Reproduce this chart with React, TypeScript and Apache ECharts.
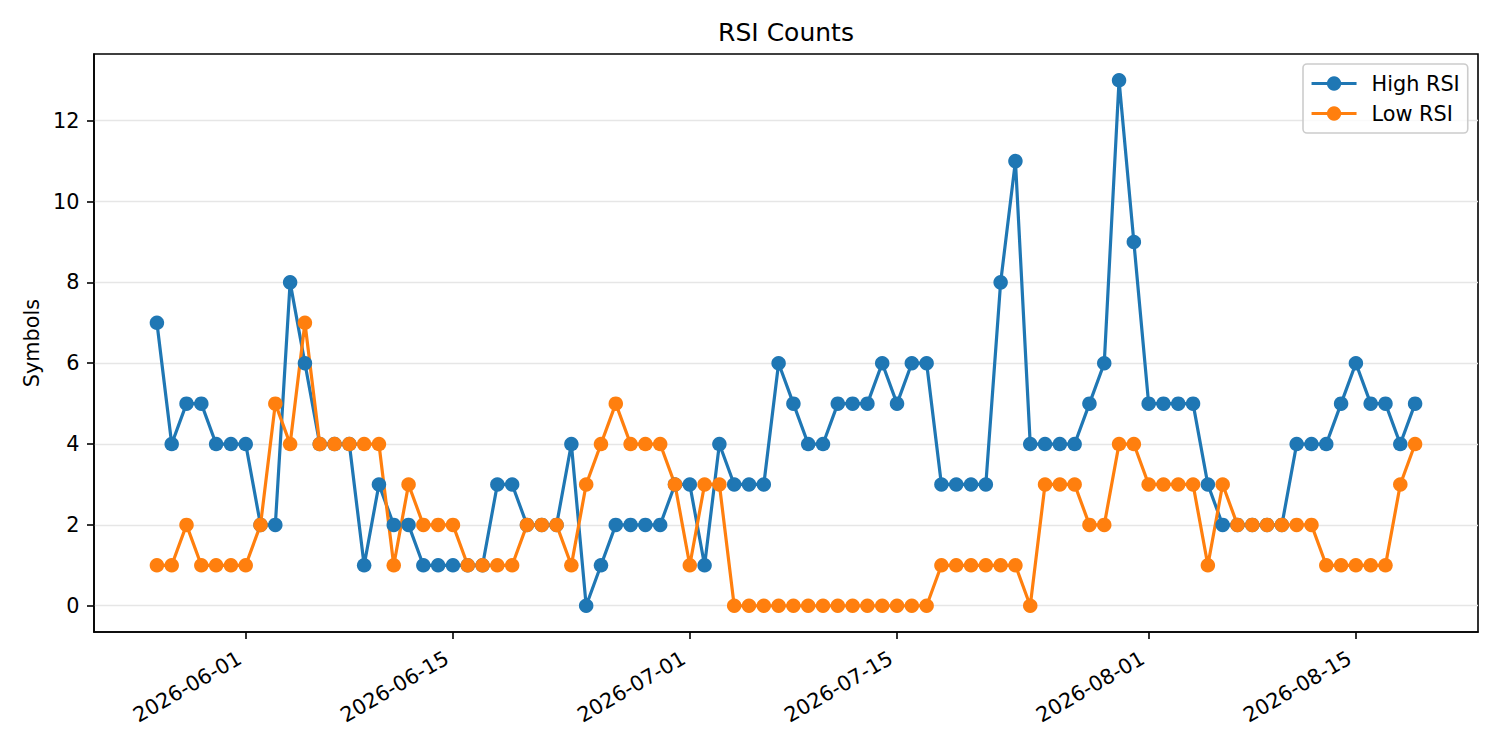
import * as echarts from "echarts";
import { useEffect, useRef } from "react";

// daily dates, 2026-05-26 .. 2026-08-19
const dates = [
  "2026-05-26", "2026-05-27", "2026-05-28", "2026-05-29", "2026-05-30", "2026-05-31",
  "2026-06-01", "2026-06-02", "2026-06-03", "2026-06-04", "2026-06-05", "2026-06-06",
  "2026-06-07", "2026-06-08", "2026-06-09", "2026-06-10", "2026-06-11", "2026-06-12",
  "2026-06-13", "2026-06-14", "2026-06-15", "2026-06-16", "2026-06-17", "2026-06-18",
  "2026-06-19", "2026-06-20", "2026-06-21", "2026-06-22", "2026-06-23", "2026-06-24",
  "2026-06-25", "2026-06-26", "2026-06-27", "2026-06-28", "2026-06-29", "2026-06-30",
  "2026-07-01", "2026-07-02", "2026-07-03", "2026-07-04", "2026-07-05", "2026-07-06",
  "2026-07-07", "2026-07-08", "2026-07-09", "2026-07-10", "2026-07-11", "2026-07-12",
  "2026-07-13", "2026-07-14", "2026-07-15", "2026-07-16", "2026-07-17", "2026-07-18",
  "2026-07-19", "2026-07-20", "2026-07-21", "2026-07-22", "2026-07-23", "2026-07-24",
  "2026-07-25", "2026-07-26", "2026-07-27", "2026-07-28", "2026-07-29", "2026-07-30",
  "2026-07-31", "2026-08-01", "2026-08-02", "2026-08-03", "2026-08-04", "2026-08-05",
  "2026-08-06", "2026-08-07", "2026-08-08", "2026-08-09", "2026-08-10", "2026-08-11",
  "2026-08-12", "2026-08-13", "2026-08-14", "2026-08-15", "2026-08-16", "2026-08-17",
  "2026-08-18", "2026-08-19",
];

const highRsi = [
  7, 4, 5, 5, 4, 4, 4, 2, 2, 8,
  6, 4, 4, 4, 1, 3, 2, 2, 1, 1,
  1, 1, 1, 3, 3, 2, 2, 2, 4, 0,
  1, 2, 2, 2, 2, 3, 3, 1, 4, 3,
  3, 3, 6, 5, 4, 4, 5, 5, 5, 6,
  5, 6, 6, 3, 3, 3, 3, 8, 11, 4,
  4, 4, 4, 5, 6, 13, 9, 5, 5, 5,
  5, 3, 2, 2, 2, 2, 2, 4, 4, 4,
  5, 6, 5, 5, 4, 5,
];

const lowRsi = [
  1, 1, 2, 1, 1, 1, 1, 2, 5, 4,
  7, 4, 4, 4, 4, 4, 1, 3, 2, 2,
  2, 1, 1, 1, 1, 2, 2, 2, 1, 3,
  4, 5, 4, 4, 4, 3, 1, 3, 3, 0,
  0, 0, 0, 0, 0, 0, 0, 0, 0, 0,
  0, 0, 0, 1, 1, 1, 1, 1, 1, 0,
  3, 3, 3, 2, 2, 4, 4, 3, 3, 3,
  3, 1, 3, 2, 2, 2, 2, 2, 2, 1,
  1, 1, 1, 1, 3, 4,
];

const xTickLabels = ["2026-06-01", "2026-06-15", "2026-07-01", "2026-07-15", "2026-08-01", "2026-08-15"];
const yTicks = [0, 2, 4, 6, 8, 10, 12];

const FONT = "DejaVu Sans";

const toTime = (s: string) => {
  const [y, m, d] = s.split("-").map(Number);
  return Date.UTC(y, m - 1, d);
};
const fmtDate = (t: number) => new Date(t).toISOString().slice(0, 10);

const App = () => {
  const chartRef = useRef<HTMLDivElement>(null);

  useEffect(() => {
    const chart = echarts.init(chartRef.current, null, { renderer: "svg" });

    const first = toTime(dates[0]);
    const last = toTime(dates[dates.length - 1]);
    const pad = (last - first) * 0.05;
    const xTicks = xTickLabels.map(toTime);

    const options = {
      animation: false,
      textStyle: { fontFamily: FONT },
      graphic: [
        {
          type: "text",
          x: 786,
          y: 32.5,
          style: {
            text: "RSI Counts",
            fontSize: 25,
            fontFamily: FONT,
            fill: "#000",
            align: "center",
            verticalAlign: "middle",
          },
        },
      ],
      legend: {
        orient: "vertical",
        left: 1303,
        top: 64,
        padding: [9, 8, 9, 7],
        itemWidth: 45,
        itemHeight: 18,
        itemGap: 9,
        selectedMode: false,
        backgroundColor: "rgba(255,255,255,0.8)",
        borderColor: "#cccccc",
        borderWidth: 1.6,
        borderRadius: 4,
        lineStyle: { width: 3.1 },
        textStyle: { fontSize: 20.8, color: "#000", fontFamily: FONT, padding: [0, 0, 0, 10] },
        data: ["High RSI", "Low RSI"],
      },
      grid: {
        left: 94,
        right: 22,
        top: 54,
        bottom: 118,
        show: true,
        borderColor: "#000",
        borderWidth: 1.6,
        containLabel: false,
        outerBoundsMode: "none",
      },
      xAxis: {
        type: "value",
        min: first - pad,
        max: last + pad,
        axisLine: { show: true, onZero: false, lineStyle: { color: "#000", width: 1.6 } },
        axisTick: { show: true, length: 7, lineStyle: { color: "#000", width: 1.6 }, customValues: xTicks },
        axisLabel: {
          customValues: xTicks,
          formatter: (v: number) => fmtDate(v),
          rotate: 30,
          margin: 21,
          padding: [0, 7, 0, 0],
          fontSize: 20.8,
          color: "#000",
          fontFamily: FONT,
        },
        splitLine: { show: false },
      },
      yAxis: {
        type: "value",
        min: -0.65,
        max: 13.65,
        name: "Symbols",
        nameLocation: "middle",
        nameGap: 48,
        nameRotate: 90,
        nameTextStyle: { fontSize: 20.8, color: "#000", fontFamily: FONT },
        axisLine: { show: true, onZero: false, lineStyle: { color: "#000", width: 1.6 } },
        axisTick: { show: true, length: 7, lineStyle: { color: "#000", width: 1.6 }, customValues: yTicks },
        axisLabel: { customValues: yTicks, margin: 14.6, fontSize: 20.8, color: "#000", fontFamily: FONT },
        splitLine: { show: true, lineStyle: { color: "#e6e6e6", width: 1.3 } },
      },
      series: [
        {
          name: "High RSI",
          type: "line",
          data: dates.map((d, i) => [toTime(d), highRsi[i]]),
          symbol: "circle",
          symbolSize: 14.5,
          showAllSymbol: true,
          lineStyle: { color: "#1f77b4", width: 3.2, join: "round" },
          itemStyle: { color: "#1f77b4" },
          emphasis: { disabled: true },
        },
        {
          name: "Low RSI",
          type: "line",
          data: dates.map((d, i) => [toTime(d), lowRsi[i]]),
          symbol: "circle",
          symbolSize: 14.5,
          showAllSymbol: true,
          lineStyle: { color: "#ff7f0e", width: 3.2, join: "round" },
          itemStyle: { color: "#ff7f0e" },
          emphasis: { disabled: true },
        },
      ],
    };

    chart.setOption(options);

    return () => {
      chart.dispose();
    };
  }, []);

  return (
    <div
      ref={chartRef}
      style={{ position: "fixed", left: 0, top: 0, width: "1500px", height: "750px", background: "#fff" }}
    />
  );
};

export default App;
